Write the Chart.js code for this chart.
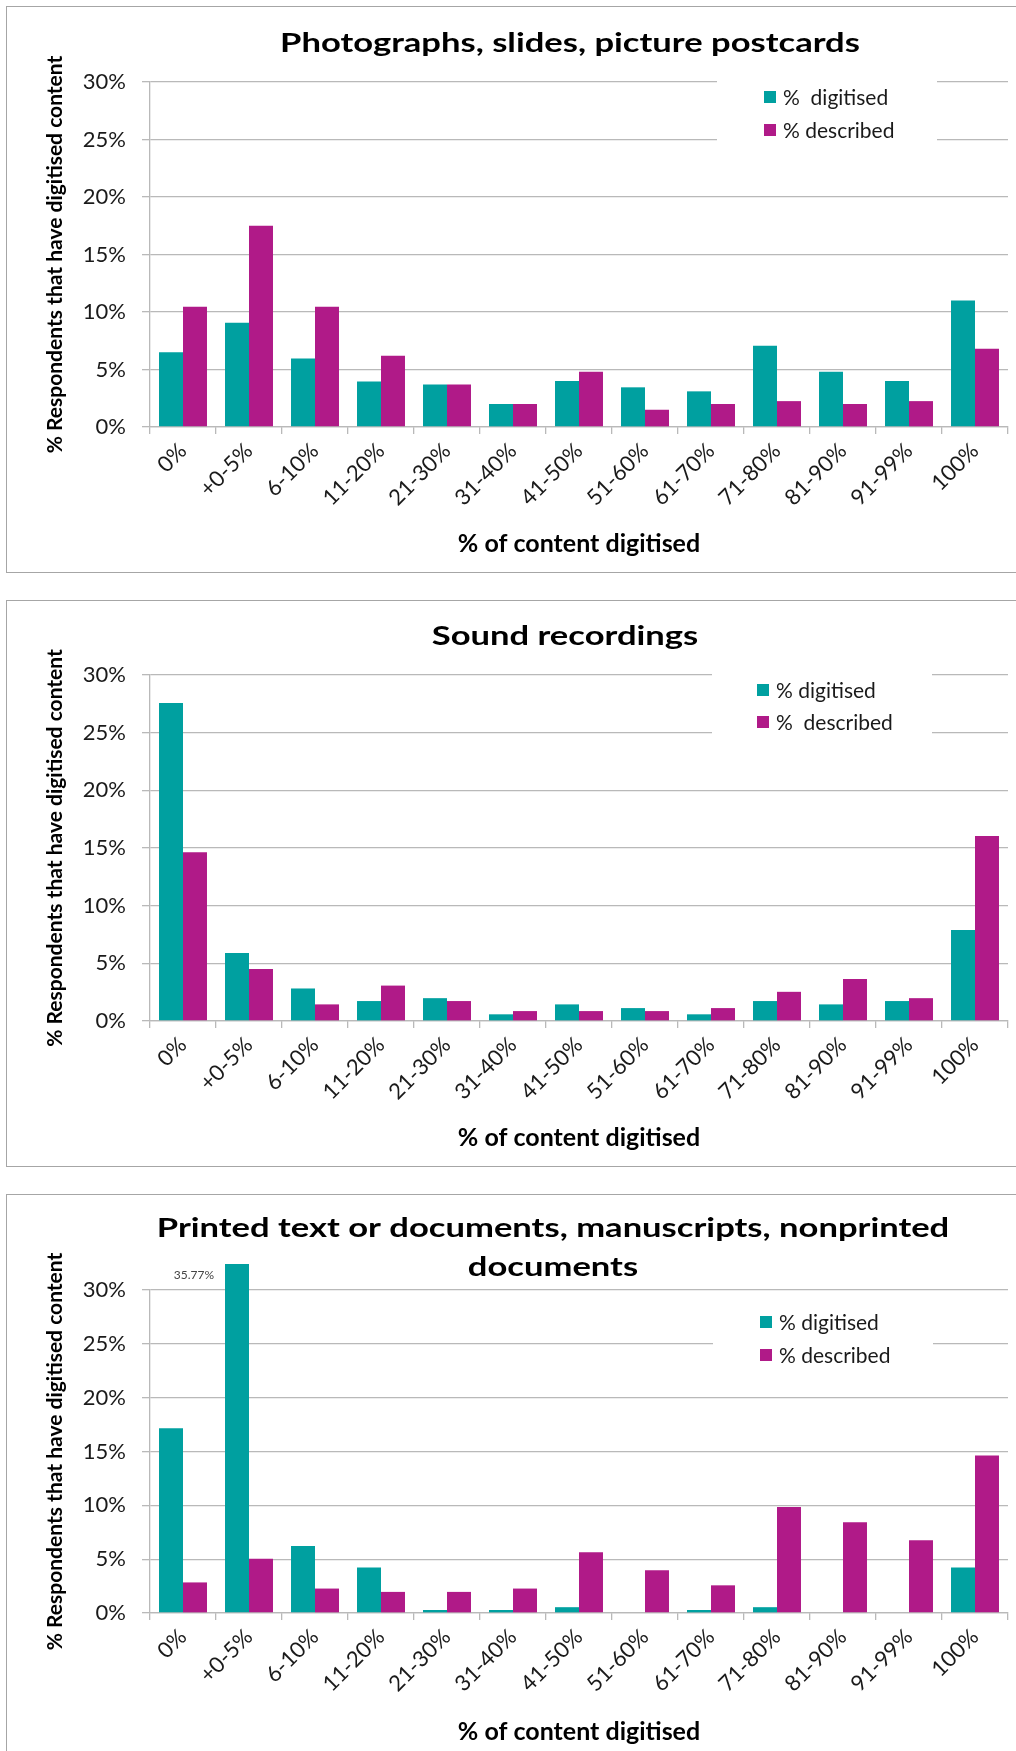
<!DOCTYPE html>
<html>
<head>
<meta charset="utf-8">
<script src="https://cdn.jsdelivr.net/npm/chart.js@4.4.1/dist/chart.umd.min.js"></script>
<style>
  html, body { margin: 0; padding: 0; background: #fff; overflow: hidden; width: 1016px; height: 1751px; }
  .panel { position: absolute; left: 6px; width: 1200px; height: 565px; border: 1px solid #a6a6a6; background: #fff; }
  .panel canvas { position: absolute; left: 0; top: 0; }
</style>
</head>
<body>
<div class="panel" style="top:6px"><canvas id="photo" width="1120" height="565"></canvas></div>
<div class="panel" style="top:600px"><canvas id="sound" width="1120" height="565"></canvas></div>
<div class="panel" style="top:1194px"><canvas id="print" width="1120" height="565"></canvas></div>
<script>
// categorie asse X e valori (in %)
var categories = ['0%', '+0-5%', '6-10%', '11-20%', '21-30%', '31-40%', '41-50%', '51-60%', '61-70%', '71-80%', '81-90%', '91-99%', '100%'];
var yTicks = [0, 5, 10, 15, 20, 25, 30];

var photoDigitised = [6.5, 9.07, 5.95, 3.95, 3.7, 2.0, 4.0, 3.45, 3.1, 7.07, 4.8, 4.0, 11.0];
var photoDescribed = [10.45, 17.5, 10.45, 6.2, 3.7, 2.0, 4.8, 1.5, 2.0, 2.25, 2.0, 2.25, 6.8];

var soundDigitised = [27.57, 5.9, 2.82, 1.73, 1.98, 0.58, 1.44, 1.12, 0.58, 1.73, 1.44, 1.73, 7.88];
var soundDescribed = [14.63, 4.5, 1.44, 3.07, 1.73, 0.86, 0.86, 0.86, 1.12, 2.53, 3.65, 1.98, 16.04];

var printDigitised = [17.15, 35.77, 6.22, 4.23, 0.28, 0.28, 0.54, 0, 0.28, 0.54, 0, 0, 4.23];
var printDescribed = [2.84, 5.04, 2.27, 1.96, 1.96, 2.27, 5.65, 3.96, 2.57, 9.84, 8.42, 6.76, 14.64];

var teal = '#00a0a0';
var magenta = '#b01a88';
var gridColor = '#b9b9b9';

Chart.defaults.font.family = 'Lato, "Open Sans", sans-serif';
Chart.defaults.color = '#1a1a1a';

// titolo, legenda ed etichetta del valore fuori scala
var decor = {
    id: 'decor',
    afterDraw: function(chart, args, o) {
        var ctx = chart.ctx;
        var area = chart.chartArea;
        ctx.save();
        ctx.fillStyle = '#000';
        ctx.font = 'bold 27px Lato';
        ctx.textAlign = 'center';
        ctx.textBaseline = 'alphabetic';
        o.title.forEach(function(line, i) {
            ctx.save();
            ctx.translate(o.titleX, o.titleY + i * 39);
            ctx.scale(1.28, 1);
            ctx.fillText(line, 0, 0);
            ctx.restore();
        });

        // legenda su sfondo bianco sopra la griglia
        ctx.fillStyle = '#fff';
        ctx.fillRect(o.boxX, area.top + o.legendY - 22, 220, o.legendGap + 40);
        ctx.font = '21px Lato';
        ctx.textAlign = 'left';
        ctx.textBaseline = 'middle';
        chart.data.datasets.forEach(function(ds, i) {
            var y = area.top + o.legendY + i * o.legendGap;
            ctx.fillStyle = ds.backgroundColor;
            ctx.fillRect(o.legendX, y - 6, 12, 12);
            ctx.fillStyle = '#1a1a1a';
            ctx.fillText(ds.label, o.legendX + 19, y + 1);
        });

        if (o.valueLabel) {
            var bar = chart.getDatasetMeta(0).data[o.valueLabel.index];
            ctx.font = '12px Lato';
            ctx.fillStyle = '#444';
            ctx.textAlign = 'right';
            ctx.fillText(o.valueLabel.text, bar.x - bar.width / 2 - 11, area.top - 15);
        }
        ctx.restore();
    }
};

function creaGrafico(id, digitised, described, labels, opzioni) {
    return new Chart(document.getElementById(id), {
        type: 'bar',
        data: {
            labels: categories,
            datasets: [{
                label: labels[0],
                backgroundColor: teal,
                data: digitised,
                clip: opzioni.clip
            }, {
                label: labels[1],
                backgroundColor: magenta,
                data: described
            }]
        },
        options: {
            responsive: false,
            animation: false,
            layout: { padding: { top: opzioni.top, right: 119, bottom: 0, left: 0 } },
            datasets: { bar: { categoryPercentage: 0.727, barPercentage: 1.0 } },
            plugins: {
                legend: { display: false },
                title: { display: false },
                tooltip: { enabled: false },
                decor: opzioni.decor
            },
            scales: {
                x: {
                    grid: { drawOnChartArea: false, color: gridColor, lineWidth: 1.3, tickLength: 7, offset: true },
                    border: { color: gridColor, width: 1.3 },
                    ticks: { autoSkip: false, minRotation: 45, maxRotation: 45, padding: 4, font: { size: 22 }, color: '#1a1a1a' },
                    title: { display: true, text: '% of content digitised', font: { size: 25, weight: 'bold' }, color: '#000', padding: { top: 0, bottom: 13 } },
                    afterFit: function(scale) { scale.height = 565 - opzioni.bottom; }
                },
                y: {
                    min: 0,
                    max: 30,
                    grid: { color: gridColor, lineWidth: 1.3, tickLength: 8 },
                    border: { color: gridColor, width: 1.3 },
                    afterBuildTicks: function(scale) {
                        scale.ticks = yTicks.map(function(v) { return { value: v }; });
                    },
                    ticks: {
                        padding: 16,
                        font: { size: 22 },
                        color: '#1a1a1a',
                        callback: function(v) { return v + '%'; }
                    },
                    title: { display: true, text: '% Respondents that have digitised content', font: { size: 21, weight: 'bold' }, color: '#000', padding: { top: 36, bottom: 0 } },
                    afterFit: function(scale) { scale.width = 143; }
                }
            }
        },
        plugins: [decor]
    });
}

creaGrafico('photo', photoDigitised, photoDescribed, ['%  digitised', '% described'], {
    top: 75, bottom: 420,
    decor: { title: ['Photographs, slides, picture postcards'], titleX: 563, titleY: 45, boxX: 710, legendX: 757, legendY: 15, legendGap: 33 }
});

creaGrafico('sound', soundDigitised, soundDescribed, ['% digitised', '%  described'], {
    top: 74, bottom: 420,
    decor: { title: ['Sound recordings'], titleX: 558, titleY: 44, boxX: 705, legendX: 750, legendY: 15, legendGap: 32 }
});

creaGrafico('print', printDigitised, printDescribed, ['% digitised', '% described'], {
    top: 95, bottom: 418,
    clip: { left: 0, top: 26, right: 0, bottom: 0 },
    decor: { title: ['Printed text or documents, manuscripts, nonprinted', 'documents'], titleX: 546, titleY: 42, boxX: 706, legendX: 753, legendY: 32, legendGap: 33,
             valueLabel: { index: 1, text: '35.77%' } }
});
</script>
</body>
</html>
